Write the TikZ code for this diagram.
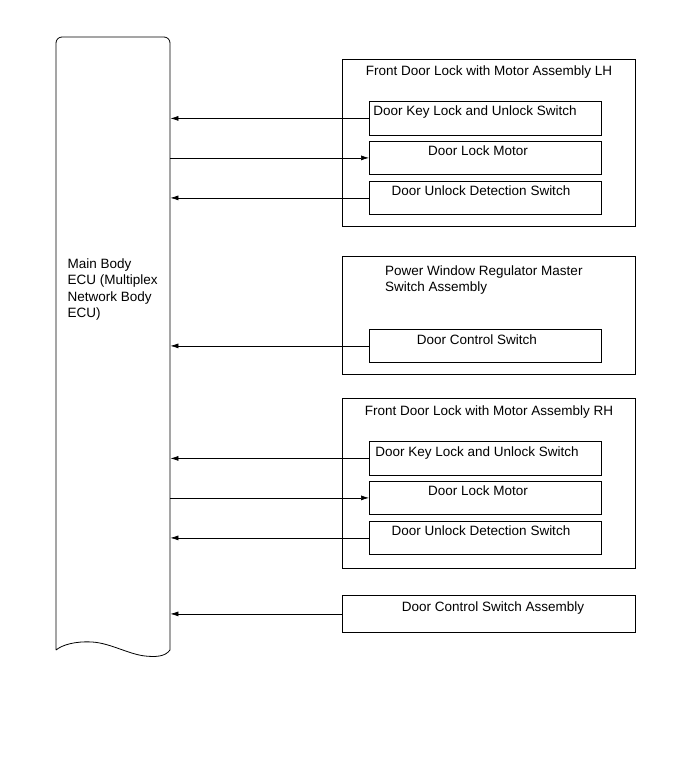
\documentclass[tikz,border=0pt]{standalone}
\usepackage{fontspec}
\setmainfont{Liberation Sans}
\usetikzlibrary{arrows.meta}
\begin{document}
\begin{tikzpicture}[x=1pt,y=-1pt,
  box/.style={draw,line width=0.8pt,inner sep=0pt,anchor=north west},
  lbl/.style={inner sep=0pt,anchor=base,font=\fontsize{13.5}{16}\selectfont},
  sig/.style={line width=0.7pt,-{Latex[length=8pt,width=5pt]}}]
\useasboundingbox (0,0) rectangle (690,757);
% ECU
\draw[line width=0.8pt] (56,650) -- (56,43) arc[start angle=180,end angle=270,radius=6] -- (164,37)
  arc[start angle=270,end angle=360,radius=6] -- (170,650)
  .. controls (165,657) and (155,657) .. (145,656)
  .. controls (128,654) and (110,643) .. (92,642)
  .. controls (75,641) and (62,645) .. (56,650);
\node[inner sep=0pt,minimum width=114pt,minimum height=613pt,anchor=north west] (ecu) at (56,37) {};
\node[inner sep=0pt,anchor=north west,align=left,font=\fontsize{13.5}{16.5}\selectfont] (ecut) at (67.5,258.5)
  {Main Body\\ECU (Multiplex\\Network Body\\ECU)};
% LH
\node[box,minimum width=293pt,minimum height=167pt] (lh) at (342,59) {};
\node[lbl] (lht) at (489,76) {Front Door Lock with Motor Assembly LH};
\node[box,minimum width=232pt,minimum height=34pt] (lh1) at (369,101) {};
\node[lbl] (lh1t) at (475,116) {Door Key Lock and Unlock Switch};
\node[box,minimum width=232pt,minimum height=33pt] (lh2) at (369,141) {};
\node[lbl] (lh2t) at (478,155) {Door Lock Motor};
\node[box,minimum width=232pt,minimum height=33pt] (lh3) at (369,181) {};
\node[lbl] (lh3t) at (481,195) {Door Unlock Detection Switch};
% PW
\node[box,minimum width=293pt,minimum height=118pt] (pw) at (342,256) {};
\node[inner sep=0pt,anchor=north west,align=left,font=\fontsize{13.5}{16}\selectfont] (pwt) at (385,266)
  {Power Window Regulator Master\\Switch Assembly};
\node[box,minimum width=232pt,minimum height=33pt] (pw1) at (369,329) {};
\node[lbl] (pw1t) at (477,344) {Door Control Switch};
% RH
\node[box,minimum width=293pt,minimum height=170pt] (rh) at (342,398) {};
\node[lbl] (rht) at (489,415) {Front Door Lock with Motor Assembly RH};
\node[box,minimum width=232pt,minimum height=34pt] (rh1) at (369,441) {};
\node[lbl] (rh1t) at (477,456) {Door Key Lock and Unlock Switch};
\node[box,minimum width=232pt,minimum height=33pt] (rh2) at (369,481) {};
\node[lbl] (rh2t) at (478,495) {Door Lock Motor};
\node[box,minimum width=232pt,minimum height=33pt] (rh3) at (369,521) {};
\node[lbl] (rh3t) at (481,535) {Door Unlock Detection Switch};
% DCSA
\node[box,minimum width=293pt,minimum height=37pt] (dcs) at (342,595) {};
\node[lbl] (dcst) at (493,611) {Door Control Switch Assembly};
% connectors
\draw[sig] (lh1.west) -- (ecu.east |- lh1.west);
\draw[sig] (ecu.east |- lh2.west) -- (lh2.west);
\draw[sig] (lh3.west) -- (ecu.east |- lh3.west);
\draw[sig] (pw1.west) -- (ecu.east |- pw1.west);
\draw[sig] (rh1.west) -- (ecu.east |- rh1.west);
\draw[sig] (ecu.east |- rh2.west) -- (rh2.west);
\draw[sig] (rh3.west) -- (ecu.east |- rh3.west);
\draw[sig] (dcs.west) -- (ecu.east |- dcs.west);
\end{tikzpicture}
\end{document}
